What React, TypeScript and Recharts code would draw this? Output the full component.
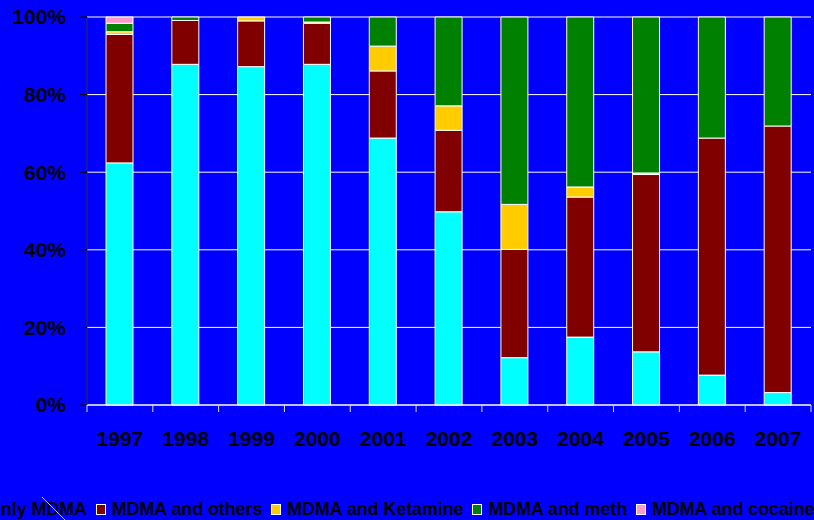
import { BarChart, Bar, XAxis, YAxis, CartesianGrid, Legend } from "recharts";

const years = ["1997", "1998", "1999", "2000", "2001", "2002", "2003", "2004", "2005", "2006", "2007"];
const onlyMdma = [62.4, 87.8, 87.2, 87.8, 68.8, 49.8, 12.2, 17.5, 13.7, 7.7, 3.2];
const mdmaOthers = [33.1, 11.3, 11.8, 10.6, 17.3, 21.0, 27.9, 36.1, 45.7, 61.1, 68.7];
const mdmaKetamine = [0.7, 0, 1.0, 0.3, 6.4, 6.3, 11.6, 2.6, 0.4, 0, 0];
const mdmaMeth = [2.2, 0.9, 0, 1.3, 7.5, 22.9, 48.3, 43.8, 40.2, 31.2, 28.1];
const mdmaCocaine = [1.6, 0, 0, 0, 0, 0, 0, 0, 0, 0, 0];
const yTicks = [0, 20, 40, 60, 80, 100];

const series = [
  { key: "only", name: "only MDMA", color: "#00FFFF" },
  { key: "others", name: "MDMA and others", color: "#800000" },
  { key: "ketamine", name: "MDMA and Ketamine", color: "#FFCC00" },
  { key: "meth", name: "MDMA and meth", color: "#008000" },
  { key: "cocaine", name: "MDMA and cocaine", color: "#FF99CC" },
];

const data = years.map((year, i) => ({
  year,
  only: onlyMdma[i],
  others: mdmaOthers[i],
  ketamine: mdmaKetamine[i],
  meth: mdmaMeth[i],
  cocaine: mdmaCocaine[i],
}));

const FONT = '"Liberation Sans", Arial, sans-serif';
const BAND = (811 - 87) / years.length;

function YearTick(props: any) {
  const { x, y, payload, index } = props;
  const left = x - BAND / 2;
  return (
    <g>
      <line x1={left} x2={left} y1={y} y2={y + 7} stroke="#dddddd" />
      {index === years.length - 1 && (
        <line x1={x + BAND / 2} x2={x + BAND / 2} y1={y} y2={y + 7} stroke="#dddddd" />
      )}
      <text
        x={x}
        y={y + 41}
        textAnchor="middle"
        fill="#000"
        fontSize={21}
        fontWeight="bold"
        fontFamily={FONT}
      >
        {payload.value}
      </text>
    </g>
  );
}

function LegendBox() {
  return (
    <div
      style={{
        display: "flex",
        alignItems: "center",
        height: 20,
        whiteSpace: "nowrap",
        fontFamily: FONT,
        fontWeight: "bold",
        fontSize: 17.8,
        color: "#000",
      }}
    >
      {series.map((s) => (
        <div
          key={s.key}
          style={{ display: "flex", alignItems: "center", marginRight: 9, flexShrink: 0 }}
        >
          <span
            style={{
              display: "inline-block",
              width: 8,
              height: 9,
              background: s.color,
              border: "1px solid #fff",
              marginRight: 6,
              flexShrink: 0,
            }}
          />
          <span>{s.name}</span>
        </div>
      ))}
    </div>
  );
}

export default function App() {
  return (
    <div
      style={{
        position: "absolute",
        left: 0,
        top: 0,
        width: 814,
        height: 520,
        background: "#0000FF",
        overflow: "hidden",
      }}
    >
      <BarChart
        width={814}
        height={520}
        data={data}
        margin={{ top: 17, right: 3, left: 0, bottom: 0 }}
        barSize={27}
      >
        <CartesianGrid stroke="#ffffff" vertical={false} />
        <XAxis
          dataKey="year"
          height={95}
          tickLine={false}
          tickSize={0}
          tickMargin={0}
          axisLine={{ stroke: "#ffffff" }}
          tick={<YearTick />}
          interval={0}
        />
        <YAxis
          width={87}
          domain={[0, 100]}
          ticks={yTicks}
          tickFormatter={(v: number) => `${v}%`}
          tickSize={7}
          tickMargin={14}
          tickLine={{ stroke: "#000" }}
          axisLine={{ stroke: "#333333" }}
          tick={{ fill: "#000", fontSize: 21, fontWeight: "bold", fontFamily: FONT }}
        />
        <YAxis
          yAxisId="right"
          orientation="right"
          width={0}
          domain={[0, 100]}
          tick={false}
          tickLine={false}
          axisLine={{ stroke: "#ffffff" }}
        />
        <Legend
          verticalAlign="bottom"
          content={<LegendBox />}
          wrapperStyle={{ left: -26, bottom: 1, width: 900 }}
        />
        {series.map((s) => (
          <Bar
            key={s.key}
            dataKey={s.key}
            name={s.name}
            stackId="a"
            fill={s.color}
            stroke="#ffffff"
            strokeWidth={1}
            isAnimationActive={false}
          />
        ))}
      </BarChart>
      <svg
        width={814}
        height={520}
        style={{ position: "absolute", left: 0, top: 0, pointerEvents: "none" }}
      >
        <line x1={42} y1={497} x2={65} y2={520} stroke="#c8c8ff" strokeWidth={1} />
      </svg>
    </div>
  );
}
